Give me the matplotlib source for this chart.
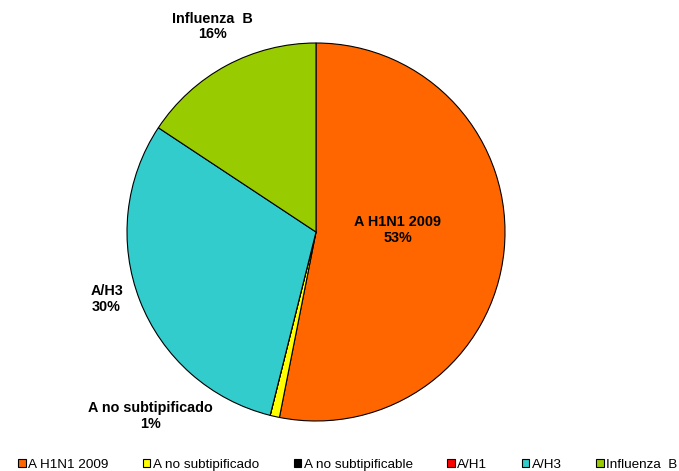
import matplotlib.pyplot as plt

plt.rcParams['font.family'] = ['Liberation Sans', 'DejaVu Sans']

labels = ['A H1N1 2009', 'A no subtipificado', 'A no subtipificable', 'A/H1', 'A/H3', 'Influenza  B']
values = [53.1, 0.8, 0.0, 0.0, 30.4, 15.7]
pct_text = ['53%', '1%', '0%', '0%', '30%', '16%']
colors = ['#FF6600', '#FFFF00', '#000000', '#FF0000', '#33CCCC', '#99CC00']

fig = plt.figure(figsize=(6.79, 4.71), dpi=100)
ax = fig.add_axes([0, 0, 1, 1])
ax.axis('off')

wedges, _ = ax.pie(values, colors=colors, startangle=90, counterclock=False,
                   center=(316, 239), radius=189,
                   wedgeprops=dict(edgecolor='black', linewidth=0.8))
ax.set_xlim(0, 679)
ax.set_ylim(0, 471)
ax.set_aspect('equal')

# label positions (axes fraction) for the visible slices
label_pos = {0: (0.586, 0.512), 1: (0.222, 0.117), 4: (0.157, 0.365), 5: (0.313, 0.944)}
for i, (x, y) in label_pos.items():
    ax.text(x, y, f"{labels[i]}\n{pct_text[i]}", transform=ax.transAxes,
            ha='center', va='center', fontsize=10.4, fontweight='bold', linespacing=1.15)

leg = fig.legend(wedges, labels, loc='lower left', bbox_to_anchor=(0.009, -0.025), ncol=6,
                 frameon=False, fontsize=9.7, handlelength=0.55, handleheight=0.55,
                 handletextpad=0.2, columnspacing=2.55, borderpad=0.4)

fig.savefig('out.png', dpi=100)
